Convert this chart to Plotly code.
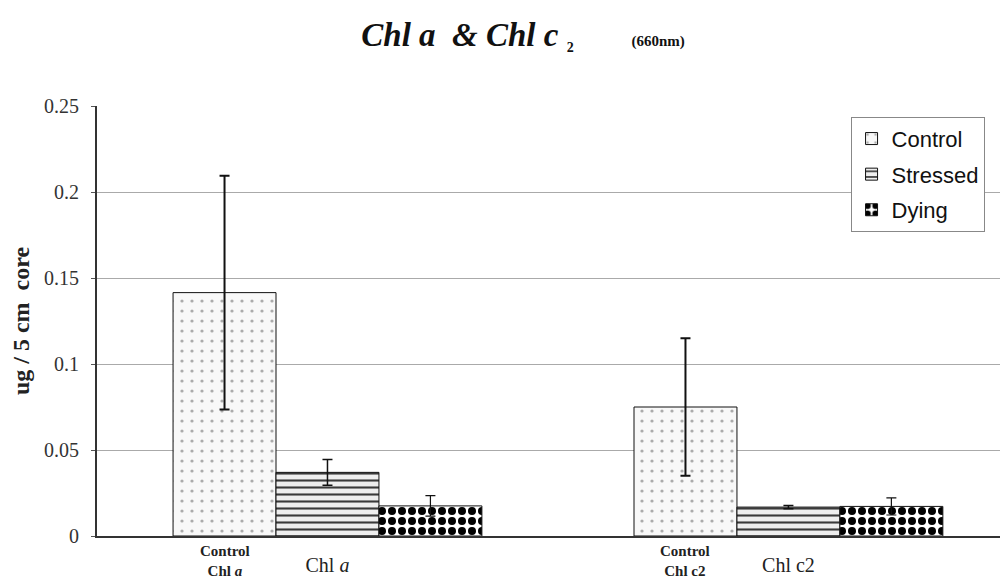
import plotly.graph_objects as go

categories = [0, 1]
category_labels = ["Chl <i>a</i>", "Chl c2"]
sub_labels = ["Control<br>Chl <i>a</i>", "Control<br>Chl c2"]
series = ["Control", "Stressed", "Dying"]
control_vals = [0.1415, 0.075]
stressed_vals = [0.037, 0.0168]
dying_vals = [0.0175, 0.0172]
control_err = [0.068, 0.040]
stressed_err = [0.0075, 0.001]
dying_err = [0.006, 0.005]

values = [control_vals, stressed_vals, dying_vals]
errors = [control_err, stressed_err, dying_err]
patterns = [
    dict(shape=".", fgcolor="#ababab", bgcolor="#f8f8f8", size=10, solidity=0.08, fgopacity=1),
    dict(shape="-", fgcolor="#3a3a3a", bgcolor="#eeeeee", size=7, solidity=0.3, fgopacity=1),
    dict(shape=".", fgcolor="#000000", bgcolor="#ffffff", size=10, solidity=0.5, fgopacity=1),
]
err_thick = [2, 1.5, 1.2]

fig = go.Figure()
for name, v, e, p, t in zip(series, values, errors, patterns, err_thick):
    fig.add_trace(go.Bar(
        x=categories, y=v, name=name, legendgroup=name,
        marker=dict(color=p["bgcolor"], pattern=p, line=dict(color="#111111", width=1)),
        error_y=dict(type="data", array=e, visible=True, color="#111111", thickness=t, width=5),
    ))

bargap = 0.33
bw = (1 - bargap) / 3
for c, lab in zip(categories, sub_labels):
    fig.add_annotation(x=c - bw, y=-0.012, xref="x", yref="paper", yanchor="top",
                       text="<b>" + lab + "</b>", showarrow=False,
                       font=dict(family="Liberation Serif", size=15, color="#222222"))

fig.update_layout(
    width=1000, height=578,
    margin=dict(l=89, r=0, t=98, b=50),
    paper_bgcolor="white", plot_bgcolor="white",
    barmode="group", bargap=bargap, bargroupgap=0,
    title=dict(
        text="<b><i>Chl a  & Chl c</i></b> <sub><span style='font-size:14px'><b>2</b></span></sub>"
             "       <span style='font-size:15px'><b>(660nm)</b></span>",
        x=0.515, xanchor="center", y=0.955, yanchor="middle",
        font=dict(family="Liberation Serif", size=33, color="#111111"),
    ),
    showlegend=True,
    legend=dict(
        x=0.829, y=0.975, xanchor="left", yanchor="top",
        font=dict(family="Liberation Sans", size=22, color="#111111"),
        bordercolor="#888888", borderwidth=1, bgcolor="white",
        tracegroupgap=4, itemwidth=30,
    ),
    font=dict(family="Liberation Serif", color="#222222"),
)
fig.update_xaxes(
    range=[-0.5, 1.472], tickvals=categories, ticktext=category_labels,
    showgrid=False, showline=True, linecolor="#333333", linewidth=2,
    ticks="", ticklabelstandoff=10,
    tickfont=dict(family="Liberation Serif", size=20, color="#222222"),
)
fig.update_yaxes(
    range=[0, 0.25], tickvals=[0, 0.05, 0.1, 0.15, 0.2, 0.25],
    ticktext=["0", "0.05", "0.1", "0.15", "0.2", "0.25"],
    showgrid=True, gridcolor="#aaaaaa", gridwidth=1,
    showline=True, linecolor="#333333", linewidth=2, mirror=True,
    ticks="outside", ticklen=4, tickcolor="#555555", ticklabelstandoff=8,
    tickfont=dict(family="Liberation Serif", size=20, color="#333333"),
    title=dict(text="<b>ug / 5 cm  core</b>", standoff=14,
               font=dict(family="Liberation Serif", size=24, color="#222222")),
    zeroline=False,
)

fig.write_html("out.html")
